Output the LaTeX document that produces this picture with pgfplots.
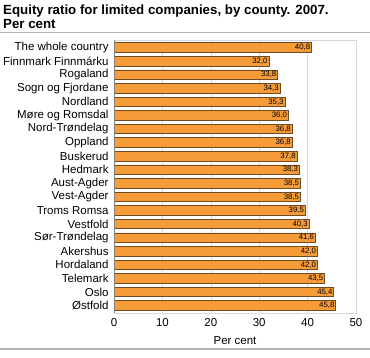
\documentclass[border=0pt]{standalone}
\usepackage{pgfplots}
\pgfplotsset{compat=1.18}
\usepackage{fontspec}
\setmainfont{Liberation Sans}
\definecolor{barfill}{HTML}{F59B38}
\definecolor{barline}{HTML}{6E4A25}
\definecolor{gridc}{HTML}{DADADA}
\definecolor{rulec}{HTML}{B4B4B4}
\begin{document}
\begin{tikzpicture}
\path[use as bounding box] (0,0) rectangle (370bp,358bp);
\node[anchor=north west, inner sep=0pt, align=left, font=\fontsize{13.3bp}{14.5bp}\selectfont\bfseries] at (3bp,353.5bp) {Equity ratio for limited companies, by county. 2007.\\Per cent};
\draw[rulec, line width=0.8bp] (0,326bp) -- (370bp,326bp);
\draw[rulec, line width=1.6bp] (0,9bp) -- (370bp,9bp);
\begin{axis}[
  at={(114bp,45bp)}, anchor=south west,
  width=242bp, height=273bp, scale only axis,
  xbar, bar width=0.7,
  xmin=0, xmax=50,
  ymin=-0.55, ymax=19.55, y dir=reverse,
  ytick={0,...,19},
  yticklabels={The whole country,Finnmark Finnmárku,Rogaland,Sogn og Fjordane,Nordland,Møre og Romsdal,Nord-Trøndelag,Oppland,Buskerud,Hedmark,Aust-Agder,Vest-Agder,Troms Romsa,Vestfold,Sør-Trøndelag,Akershus,Hordaland,Telemark,Oslo,Østfold},
  xtick={0,10,20,30,40,50},
  tick style={draw=none},
  xmajorgrids, grid style={gridc},
  axis line style={gridc},
  tick label style={font=\fontsize{11.5bp}{13bp}\selectfont},
  yticklabel style={inner sep=1bp},
  xticklabel style={yshift=-2bp},
  /pgf/number format/assume math mode=true,
  xlabel={Per cent}, xlabel style={font=\fontsize{11.5bp}{13bp}\selectfont, yshift=-3bp},
  nodes near coords,
  nodes near coords style={anchor=east, font=\fontsize{7.8bp}{8bp}\selectfont, inner sep=1bp,
    /pgf/number format/.cd, fixed, fixed zerofill, precision=1, use comma},
  point meta=explicit,
]
\addplot[fill=barfill, draw=barline, line width=0.6bp] table[meta=x] {
x y
40.8 0
32.0 1
33.8 2
34.3 3
35.3 4
36.0 5
36.8 6
36.8 7
37.8 8
38.3 9
38.5 10
38.5 11
39.5 12
40.3 13
41.6 14
42.0 15
42.0 16
43.5 17
45.4 18
45.8 19
};
\draw[gray, line width=0.8bp] (axis cs:0,-0.55) -- (axis cs:0,19.55);
\end{axis}
\end{tikzpicture}
\end{document}
